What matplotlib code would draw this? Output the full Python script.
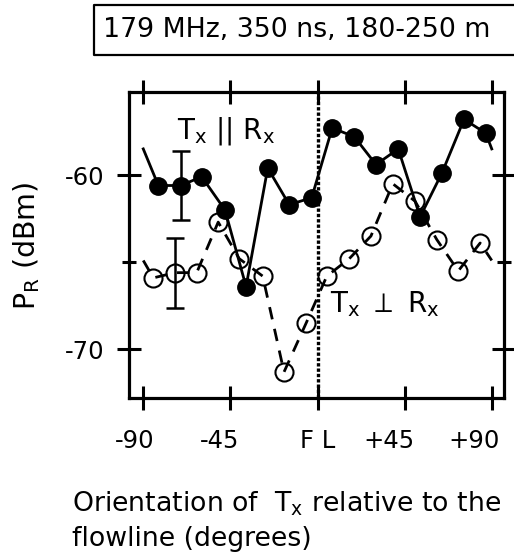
import matplotlib.pyplot as plt
from matplotlib.lines import Line2D
from matplotlib.transforms import ScaledTranslation

plt.rcParams['font.family'] = ['DejaVu Sans']
plt.rcParams['mathtext.fontset'] = 'dejavusans'
plt.rcParams['axes.unicode_minus'] = False

# Tx || Rx (filled circles); line runs out to +/-90 at the wrap-around value
par_deg = [-82.2, -70.7, -59.8, -47.8, -36.9, -25.7, -14.6, -3.0,
           7.6, 19.0, 30.2, 41.7, 53.0, 64.2, 75.7, 86.9]
par_dbm = [-60.6, -60.6, -60.1, -62.0, -66.4, -59.6, -61.7, -61.3,
           -57.3, -57.8, -59.4, -58.5, -62.4, -59.9, -56.8, -57.6]
par_wrap = -58.5

# Tx perpendicular to Rx (open circles)
perp_deg = [-84.8, -73.6, -62.4, -51.3, -40.4, -28.3, -17.3, -5.9,
            4.8, 16.4, 27.6, 38.9, 50.4, 61.6, 72.7, 84.0]
perp_dbm = [-65.9, -65.6, -65.6, -62.7, -64.8, -65.8, -71.3, -68.5,
            -65.8, -64.8, -63.5, -60.5, -61.5, -63.7, -65.5, -63.9]
perp_wrap = -64.9

err_idx = 1      # point carrying the error bar in each series
err_db = 2.0

xticks = [-90, -45, 0, 45, 90]
xticklabels = ['-90', '-45', 'F L', '+45', '+90']
yticks = [-70, -60]
yminor = [-65]

fig = plt.figure(figsize=(5.14, 5.54), dpi=100)
ax = fig.add_axes([0.2516, 0.2810, 0.7296, 0.5534])

# open series first, dashed
ax.plot([-90] + perp_deg + [90], [perp_wrap] + perp_dbm + [perp_wrap],
        color='black', lw=2, dashes=(4.5, 3.5), zorder=2)
ax.plot(perp_deg, perp_dbm, 'o', ms=13, mfc='none', mec='black', mew=1.5, zorder=3)
ax.errorbar(perp_deg[err_idx], perp_dbm[err_idx], yerr=err_db, fmt='none',
            ecolor='black', elinewidth=1.8, capsize=6.5, capthick=1.8, zorder=3)

# filled series, solid
ax.plot([-90] + par_deg + [90], [par_wrap] + par_dbm + [par_wrap],
        color='black', lw=2, zorder=4)
ax.plot(par_deg, par_dbm, 'o', ms=12.5, color='black', zorder=5)
ax.errorbar(par_deg[err_idx], par_dbm[err_idx], yerr=err_db, fmt='none',
            ecolor='black', elinewidth=1.8, capsize=6.5, capthick=1.8, zorder=5)

ax.axvline(0, color='black', lw=2.4, dashes=(1, 0.6), zorder=1)

ax.text(-72.7, -57.9, r'T$_\mathregular{x}$ || R$_\mathregular{x}$', fontsize=20,
        ha='left', va='baseline')
ax.text(6.5, -67.85, r'T$_\mathregular{x}$ $\perp$ R$_\mathregular{x}$', fontsize=20,
        ha='left', va='baseline')

ax.set_xlim(-97.2, 96.5)
ax.set_ylim(-72.81, -55.22)
ax.set_xticks(xticks)
ax.set_xticklabels(xticklabels)
ax.set_yticks(yticks)
ax.set_yticks(yminor, minor=True)
ax.tick_params(which='both', direction='inout', top=True, right=True, width=2.2)
ax.tick_params(which='major', length=17.3)
ax.tick_params(which='minor', length=9.6)
ax.tick_params(axis='x', labelsize=17.5, pad=13.5)
ax.tick_params(axis='y', labelsize=17.5, pad=9.5)
for s in ax.spines.values():
    s.set_linewidth(2.3)

# the original's x labels sit a little left of their ticks
shift_px = [-9, -11, 0, -16, -18]
for lab, dx in zip(ax.get_xticklabels(), shift_px):
    lab.set_transform(lab.get_transform() + ScaledTranslation(dx / 100, 0, fig.dpi_scale_trans))

fig.text(27 / 514, 1 - 245.5 / 554, r'P$_\mathregular{R}$ (dBm)', fontsize=20.5,
         rotation=90, ha='center', va='center')
fig.text(72 / 514, 1 - 512 / 554, r'Orientation of  T$_\mathregular{x}$ relative to the',
         fontsize=19.3, ha='left', va='baseline')
fig.text(72 / 514, 1 - 546 / 554, 'flowline (degrees)',
         fontsize=19.3, ha='left', va='baseline')

# header box, open on the right (runs off the figure edge)
bx0, bx1 = 94.3 / 514, 1.05
by0, by1 = 1 - 55 / 554, 1 - 5 / 554
fig.add_artist(Line2D([bx1, bx0, bx0, bx1], [by1, by1, by0, by0],
                      transform=fig.transFigure, color='black', lw=1.6))
fig.text(103.3 / 514, 1 - 37.3 / 554, '179 MHz, 350 ns, 180-250 m',
         fontsize=19.3, ha='left', va='baseline')

fig.savefig('out.png', dpi=100)
